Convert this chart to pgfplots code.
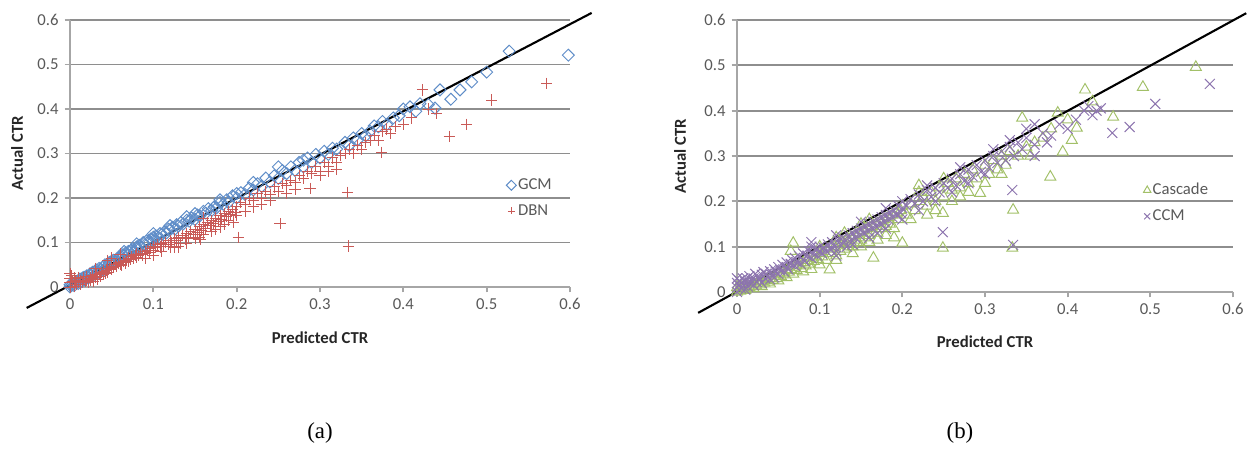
\documentclass[border=0pt]{standalone}
\usepackage{fontspec}
\setmainfont{Carlito}
\newfontfamily\capfont{Liberation Serif}
\usepackage{pgfplots}
\pgfplotsset{compat=1.18}

\definecolor{gcmblue}{HTML}{5F8DC8}
\definecolor{dbnred}{HTML}{C95A57}
\definecolor{cascgreen}{HTML}{A2C068}
\definecolor{ccmpurple}{HTML}{8C74AE}
\definecolor{gridgray}{HTML}{8E8E8E}
\definecolor{axisgray}{HTML}{A6A6A6}
\definecolor{labelgray}{HTML}{595959}

\pgfplotsset{
  ctr/.style={
    scale only axis, clip=false,
    xmin=0, xmax=0.6, ymin=0, ymax=0.6,
    axis x line=bottom, axis y line=left,
    axis line style={-, line width=1pt, draw=axisgray},
    xtick={0,0.1,0.2,0.3,0.4,0.5,0.6},
    ytick={0,0.1,0.2,0.3,0.4,0.5,0.6},
    ymajorgrids, major grid style={line width=1pt, draw=gridgray},
    tick align=outside, major tick length=3pt,
    tick style={line width=1pt, draw=axisgray},
    ticklabel style={font=\fontsize{9.5}{11}\selectfont, text=labelgray},
    /pgf/number format/assume math mode=true,
    label style={font=\fontsize{9.5}{11}\selectfont\bfseries, text=black!85},
    xlabel={Predicted CTR}, ylabel={Actual CTR},
    legend style={draw=none, fill=none, inner sep=0pt, row sep=5pt,
      font=\fontsize{9.5}{11}\selectfont, text=labelgray,
      nodes={inner sep=1pt}},
    legend cell align=left,
  },
  ctrmark/.style={only marks, line width=0.55pt,
    legend image code/.code={\draw[mark repeat=2,mark phase=2,##1]
      plot coordinates {(0cm,0cm) (0.12cm,0cm) (0.24cm,0cm)};}},
  diag/.style={black, line width=1.2pt, forget plot},
}

\begin{document}
\begin{tikzpicture}
\path (0,0) rectangle (25.02cm,9.02cm);

% (a) GCM vs DBN
\begin{axis}[ctr, at={(1.4cm,3.28cm)}, anchor=south west,
  width=10cm, height=5.34cm,
  xlabel style={at={(axis description cs:0.5,-0.19)}, anchor=center},
  ylabel style={at={(axis description cs:-0.106,0.5)}, anchor=center},
  legend style={at={(0.872,0.333)}, anchor=west},
  legend image post style={mark size=2pt}]
\addplot[ctrmark, mark=square, mark size=2.4pt, mark options={rotate=45}, draw=gcmblue] coordinates {
(0,0) (0,0.005) (0.002,0.004) (0.004,0.008) (0.005,0.003) (0.006,0.01) (0.008,0.012) (0.01,0.008)
(0.01,0.015) (0.012,0.018) (0.014,0.012) (0.015,0.02) (0.017,0.022) (0.018,0.016) (0.02,0.025)
(0.022,0.02) (0.024,0.03) (0.025,0.026) (0.027,0.033) (0.03,0.028) (0.03,0.036) (0.032,0.038)
(0.034,0.033) (0.035,0.042) (0.037,0.04) (0.04,0.046) (0.04,0.038) (0.042,0.05) (0.045,0.048)
(0.047,0.055) (0.05,0.052) (0.05,0.058) (0.052,0.06) (0.055,0.057) (0.057,0.065) (0.06,0.068)
(0.06,0.062) (0.063,0.072) (0.065,0.07) (0.067,0.077) (0.07,0.08) (0.07,0.073) (0.073,0.082)
(0.075,0.086) (0.077,0.08) (0.08,0.09) (0.08,0.085) (0.083,0.094) (0.085,0.09) (0.088,0.1)
(0.09,0.095) (0.092,0.104) (0.095,0.1) (0.097,0.108) (0.1,0.112) (0.1,0.104) (0.103,0.115)
(0.106,0.11) (0.108,0.12) (0.11,0.118) (0.113,0.124) (0.116,0.122) (0.118,0.13) (0.12,0.128)
(0.123,0.134) (0.126,0.13) (0.128,0.14) (0.13,0.137) (0.133,0.145) (0.136,0.142) (0.14,0.15)
(0.143,0.148) (0.146,0.155) (0.15,0.152) (0.153,0.162) (0.156,0.16) (0.16,0.17) (0.163,0.166)
(0.166,0.176) (0.17,0.172) (0.173,0.18) (0.176,0.178) (0.18,0.19) (0.184,0.186) (0.188,0.196)
(0.19,0.19) (0.195,0.205) (0.2,0.2) (0.2,0.21) (0.205,0.212) (0.21,0.208) (0.215,0.222)
(0.22,0.218) (0.225,0.232) (0.23,0.226) (0.235,0.245) (0.24,0.236) (0.245,0.25) (0.25,0.244)
(0.255,0.262) (0.26,0.255) (0.265,0.27) (0.27,0.262) (0.275,0.28) (0.28,0.27) (0.285,0.29)
(0.29,0.28) (0.295,0.298) (0.3,0.29) (0.305,0.305) (0.31,0.298) (0.315,0.312) (0.32,0.31)
(0.33,0.325) (0.335,0.318) (0.34,0.335) (0.345,0.33) (0.35,0.345) (0.355,0.34) (0.36,0.35)
(0.365,0.362) (0.37,0.36) (0.375,0.372) (0.38,0.365) (0.388,0.38) (0.395,0.385) (0.4,0.4)
(0.408,0.405) (0.415,0.395) (0.42,0.412) (0.43,0.41) (0.438,0.402) (0.444,0.443) (0.457,0.422)
(0.468,0.443) (0.482,0.461) (0.5,0.483) (0.527,0.53) (0.598,0.521)
(0.12,0.138) (0.15,0.165) (0.18,0.196) (0.22,0.235) (0.25,0.27) (0.28,0.285) (0.1,0.12)
(0.08,0.097) (0.065,0.08) (0.14,0.158)};
\addlegendentry{GCM}
\addplot[ctrmark, mark=+, mark size=3.2pt, draw=dbnred] coordinates {
(0,0) (0,0.01) (0,0.02) (0,0.03) (0.002,0.025) (0.003,0.012) (0.005,0.02) (0.005,0.002)
(0.007,0.015) (0.008,0.005) (0.01,0.01) (0.01,0.022) (0.012,0.006) (0.013,0.015) (0.015,0.01)
(0.016,0.02) (0.018,0.012) (0.02,0.015) (0.02,0.024) (0.022,0.01) (0.024,0.02) (0.025,0.016)
(0.027,0.025) (0.028,0.012) (0.03,0.022) (0.032,0.028) (0.033,0.018) (0.035,0.03) (0.036,0.024)
(0.038,0.032) (0.04,0.028) (0.04,0.036) (0.042,0.03) (0.044,0.038) (0.045,0.033) (0.047,0.042)
(0.05,0.04) (0.05,0.045) (0.03,0.042) (0.045,0.06) (0.052,0.044) (0.054,0.05) (0.056,0.046)
(0.058,0.052) (0.06,0.05) (0.06,0.056) (0.062,0.048) (0.064,0.058) (0.066,0.054) (0.068,0.06)
(0.07,0.058) (0.07,0.065) (0.072,0.062) (0.074,0.068) (0.076,0.064) (0.078,0.07) (0.08,0.066)
(0.08,0.074) (0.082,0.07) (0.085,0.076) (0.087,0.072) (0.09,0.08) (0.09,0.075) (0.093,0.082)
(0.095,0.078) (0.097,0.086) (0.1,0.082) (0.1,0.09) (0.05,0.065) (0.06,0.074) (0.103,0.088)
(0.105,0.095) (0.108,0.09) (0.11,0.098) (0.112,0.092) (0.115,0.1) (0.118,0.096) (0.12,0.104)
(0.122,0.1) (0.125,0.108) (0.128,0.104) (0.13,0.112) (0.132,0.098) (0.135,0.115) (0.138,0.108)
(0.14,0.12) (0.142,0.112) (0.145,0.125) (0.148,0.118) (0.15,0.13) (0.153,0.122) (0.155,0.135)
(0.158,0.128) (0.16,0.14) (0.163,0.132) (0.165,0.145) (0.168,0.138) (0.17,0.15) (0.172,0.142)
(0.175,0.155) (0.178,0.148) (0.18,0.16) (0.182,0.152) (0.185,0.165) (0.188,0.158) (0.19,0.17)
(0.193,0.162) (0.195,0.175) (0.198,0.168) (0.2,0.18) (0.15,0.11) (0.17,0.125) (0.16,0.155)
(0.12,0.09) (0.196,0.146) (0.202,0.112) (0.156,0.106) (0.205,0.19) (0.21,0.185) (0.215,0.2)
(0.22,0.195) (0.225,0.21) (0.23,0.2) (0.235,0.215) (0.24,0.208) (0.245,0.225) (0.25,0.215)
(0.252,0.142) (0.255,0.232) (0.26,0.228) (0.265,0.24) (0.27,0.235) (0.275,0.25) (0.28,0.245)
(0.285,0.26) (0.29,0.255) (0.288,0.222) (0.295,0.27) (0.3,0.26) (0.305,0.28) (0.31,0.27)
(0.315,0.29) (0.32,0.28) (0.325,0.295) (0.33,0.3) (0.333,0.213) (0.334,0.092) (0.335,0.31)
(0.34,0.3) (0.345,0.318) (0.35,0.31) (0.355,0.325) (0.36,0.33) (0.365,0.34) (0.37,0.33)
(0.374,0.303) (0.375,0.35) (0.38,0.355) (0.385,0.345) (0.39,0.36) (0.4,0.365) (0.41,0.38)
(0.423,0.443) (0.43,0.4) (0.44,0.39) (0.455,0.339) (0.476,0.366) (0.506,0.42) (0.572,0.458)
(0.09,0.065) (0.1,0.07) (0.11,0.08) (0.125,0.088) (0.13,0.09) (0.14,0.098) (0.155,0.112)
(0.16,0.118) (0.175,0.13) (0.18,0.135) (0.185,0.14) (0.19,0.15) (0.2,0.16) (0.21,0.17)
(0.22,0.18) (0.23,0.185) (0.24,0.195) (0.26,0.21) (0.27,0.22) (0.3,0.25) (0.31,0.26) (0.32,0.265)};
\addlegendentry{DBN}
\addplot[diag] coordinates {(-0.052,-0.047) (0.626,0.616)};
\end{axis}

% (b) Cascade vs CCM
\begin{axis}[ctr, at={(14.74cm,3.18cm)}, anchor=south west,
  width=9.92cm, height=5.44cm,
  xlabel style={at={(axis description cs:0.5,-0.184)}, anchor=center},
  ylabel style={at={(axis description cs:-0.115,0.5)}, anchor=center},
  legend style={at={(0.819,0.327)}, anchor=west},
  legend image post style={mark size=2.4pt}]
\addplot[ctrmark, mark=triangle, mark size=3.6pt, draw=cascgreen] coordinates {
(0,0) (0,0.01) (0.002,0.005) (0.004,0.002) (0.005,0.012) (0.007,0.006) (0.01,0.004) (0.01,0.015)
(0.012,0.008) (0.015,0.01) (0.015,0.02) (0.018,0.012) (0.02,0.008) (0.02,0.018) (0.023,0.014)
(0.025,0.02) (0.028,0.016) (0.03,0.012) (0.03,0.024) (0.033,0.02) (0.035,0.028) (0.038,0.022)
(0.04,0.018) (0.04,0.03) (0.043,0.026) (0.045,0.034) (0.048,0.03) (0.05,0.025) (0.05,0.038)
(0.053,0.035) (0.055,0.042) (0.058,0.038) (0.06,0.032) (0.06,0.048) (0.063,0.044) (0.065,0.05)
(0.068,0.04) (0.07,0.055) (0.068,0.108) (0.072,0.048) (0.075,0.06) (0.078,0.052) (0.08,0.065)
(0.08,0.045) (0.083,0.058) (0.085,0.07) (0.088,0.062) (0.09,0.05) (0.09,0.075) (0.093,0.068)
(0.095,0.08) (0.098,0.072) (0.1,0.06) (0.1,0.085) (0.065,0.09) (0.103,0.078) (0.105,0.09)
(0.108,0.07) (0.11,0.095) (0.112,0.049) (0.115,0.085) (0.118,0.1) (0.12,0.08) (0.123,0.105)
(0.125,0.09) (0.128,0.11) (0.13,0.095) (0.133,0.115) (0.135,0.1) (0.138,0.12) (0.14,0.085)
(0.143,0.125) (0.145,0.11) (0.148,0.13) (0.15,0.115) (0.153,0.135) (0.155,0.12) (0.158,0.14)
(0.16,0.125) (0.163,0.145) (0.165,0.075) (0.168,0.15) (0.17,0.13) (0.173,0.155) (0.175,0.14)
(0.178,0.16) (0.18,0.145) (0.183,0.165) (0.185,0.15) (0.188,0.17) (0.19,0.12) (0.193,0.175)
(0.195,0.16) (0.198,0.18) (0.2,0.108) (0.2,0.19) (0.205,0.17) (0.21,0.195) (0.215,0.18)
(0.22,0.235) (0.222,0.2) (0.225,0.21) (0.23,0.19) (0.235,0.22) (0.24,0.2) (0.245,0.23)
(0.249,0.097) (0.249,0.174) (0.25,0.21) (0.255,0.24) (0.26,0.225) (0.265,0.25) (0.27,0.23)
(0.275,0.26) (0.28,0.24) (0.285,0.27) (0.29,0.25) (0.294,0.218) (0.3,0.28) (0.305,0.26)
(0.31,0.29) (0.315,0.27) (0.32,0.3) (0.325,0.28) (0.33,0.31) (0.333,0.097) (0.334,0.181)
(0.34,0.3) (0.345,0.384) (0.35,0.32) (0.355,0.3) (0.36,0.33) (0.37,0.34) (0.379,0.254)
(0.38,0.36) (0.388,0.395) (0.394,0.309) (0.4,0.38) (0.405,0.335) (0.411,0.362) (0.421,0.446)
(0.43,0.42) (0.455,0.386) (0.491,0.452) (0.555,0.496)
(0.12,0.07) (0.14,0.1) (0.15,0.1) (0.16,0.11) (0.17,0.115) (0.18,0.125) (0.19,0.14)
(0.21,0.16) (0.23,0.17) (0.24,0.18) (0.26,0.2) (0.27,0.21) (0.28,0.22) (0.3,0.24) (0.32,0.26)
(0.1,0.1) (0.12,0.12) (0.15,0.15) (0.22,0.22) (0.25,0.25) (0.13,0.13) (0.16,0.16)};
\addlegendentry{Cascade}
\addplot[ctrmark, mark=x, mark size=4pt, draw=ccmpurple] coordinates {
(0,0) (0,0.01) (0,0.02) (0,0.03) (0.002,0.015) (0.003,0.025) (0.005,0.008) (0.005,0.02)
(0.007,0.03) (0.008,0.014) (0.01,0.005) (0.01,0.022) (0.012,0.03) (0.013,0.012) (0.015,0.02)
(0.015,0.035) (0.017,0.026) (0.02,0.015) (0.02,0.03) (0.022,0.04) (0.024,0.022) (0.025,0.034)
(0.027,0.028) (0.03,0.02) (0.03,0.038) (0.032,0.044) (0.034,0.03) (0.035,0.04) (0.037,0.034)
(0.04,0.028) (0.04,0.046) (0.042,0.038) (0.045,0.05) (0.045,0.032) (0.047,0.044) (0.05,0.04)
(0.05,0.055) (0.052,0.048) (0.055,0.06) (0.057,0.045) (0.06,0.055) (0.06,0.065) (0.062,0.05)
(0.065,0.062) (0.067,0.07) (0.07,0.058) (0.07,0.075) (0.072,0.066) (0.075,0.08) (0.077,0.062)
(0.08,0.072) (0.08,0.085) (0.082,0.068) (0.085,0.08) (0.087,0.09) (0.09,0.075) (0.09,0.1)
(0.092,0.085) (0.095,0.095) (0.097,0.08) (0.1,0.09) (0.1,0.1) (0.103,0.085) (0.105,0.098)
(0.108,0.09) (0.11,0.105) (0.113,0.095) (0.115,0.11) (0.118,0.1) (0.12,0.09) (0.122,0.115)
(0.125,0.105) (0.128,0.12) (0.13,0.11) (0.133,0.1) (0.135,0.125) (0.138,0.115) (0.14,0.13)
(0.143,0.12) (0.145,0.135) (0.148,0.125) (0.15,0.14) (0.153,0.13) (0.155,0.145) (0.158,0.135)
(0.16,0.15) (0.163,0.14) (0.165,0.155) (0.168,0.145) (0.17,0.16) (0.173,0.15) (0.175,0.165)
(0.178,0.155) (0.18,0.17) (0.183,0.16) (0.185,0.175) (0.188,0.165) (0.19,0.18) (0.193,0.17)
(0.195,0.19) (0.198,0.175) (0.2,0.2) (0.2,0.185) (0.205,0.19) (0.21,0.205) (0.215,0.195)
(0.22,0.215) (0.225,0.2) (0.23,0.225) (0.235,0.21) (0.24,0.23) (0.245,0.22) (0.249,0.132)
(0.25,0.24) (0.255,0.23) (0.26,0.25) (0.265,0.235) (0.27,0.26) (0.275,0.245) (0.28,0.27)
(0.285,0.255) (0.29,0.28) (0.295,0.265) (0.3,0.29) (0.305,0.275) (0.31,0.3) (0.315,0.285)
(0.32,0.31) (0.325,0.29) (0.33,0.32) (0.333,0.225) (0.334,0.104) (0.335,0.3) (0.34,0.33)
(0.345,0.315) (0.35,0.34) (0.36,0.325) (0.36,0.3) (0.37,0.35) (0.375,0.33) (0.38,0.345)
(0.39,0.37) (0.4,0.36) (0.41,0.38) (0.42,0.4) (0.425,0.41) (0.43,0.39) (0.435,0.4) (0.44,0.405)
(0.454,0.351) (0.475,0.364) (0.506,0.415) (0.572,0.459)
(0.12,0.08) (0.14,0.105) (0.16,0.12) (0.17,0.13) (0.18,0.14) (0.2,0.16) (0.22,0.18)
(0.24,0.2) (0.26,0.22) (0.28,0.24) (0.3,0.26) (0.12,0.125) (0.15,0.155) (0.18,0.185)
(0.23,0.235) (0.27,0.275) (0.31,0.315) (0.33,0.335) (0.35,0.36) (0.36,0.37) (0.09,0.11)};
\addlegendentry{CCM}
\addplot[diag] coordinates {(-0.047,-0.046) (0.616,0.615)};
\end{axis}

\node[font=\capfont\fontsize{13}{15}\selectfont] at (6.4cm,0.36cm) {(a)};
\node[font=\capfont\fontsize{13}{15}\selectfont] at (19.2cm,0.36cm) {(b)};
\end{tikzpicture}
\end{document}
